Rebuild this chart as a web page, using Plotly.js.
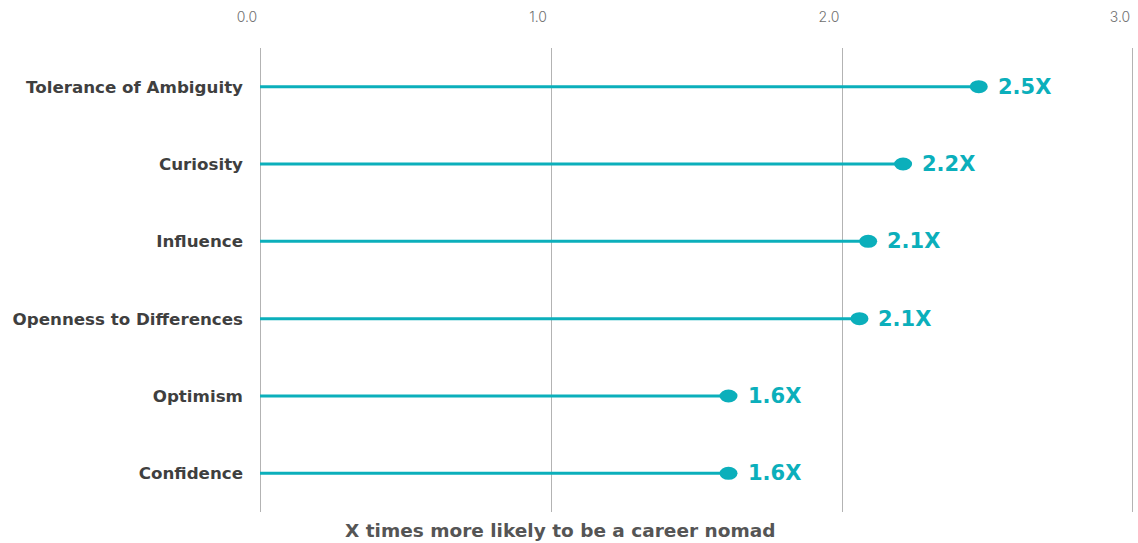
<!DOCTYPE html>
<html>
<head>
<meta charset="utf-8">
<script src="https://cdn.plot.ly/plotly-3.0.1.min.js"></script>
<style>
  html, body { margin: 0; padding: 0; background: #fff; }
  #chart { width: 1138px; height: 543px; }
</style>
</head>
<body>
<div id="chart"></div>
<script>
// Traits and how many times more likely each makes someone a career nomad
const traits = [
  "Tolerance of Ambiguity",
  "Curiosity",
  "Influence",
  "Openness to Differences",
  "Optimism",
  "Confidence"
];
const likelihood = [2.47, 2.21, 2.09, 2.06, 1.61, 1.61];
const tickValues = [0, 1, 2, 3];
const tickLabels = ["0.0", "1.0", "2.0", "3.0"];

const teal = "#0bafbb";
const boldFont = "'DejaVu Sans', Verdana, sans-serif";

// Stems: one segment per trait from zero to its value, separated by gaps
const stemX = [], stemY = [];
traits.forEach((t, i) => {
  stemX.push(0, likelihood[i], null);
  stemY.push(t, t, null);
});

const stems = {
  type: "scatter",
  mode: "lines",
  x: stemX,
  y: stemY,
  line: { color: teal, width: 3 },
  hoverinfo: "skip",
  showlegend: false
};

// Vertical grid at every tick, including both ends of the range.
// Each 1px line is nudged half a pixel (inwards at the right edge) so it stays crisp.
const lastTick = tickValues[tickValues.length - 1];
const gridLines = tickValues.map(v => {
  const nudge = v === lastTick ? -0.5 : 0.5;
  return {
    type: "line",
    xref: "x", yref: "paper",
    xsizemode: "pixel", xanchor: v,
    x0: nudge, x1: nudge, y0: 0, y1: 1,
    line: { color: "#b3b3b3", width: 1 },
    layer: "below"
  };
});

// Oval heads, anchored at each value and sized in pixels
const heads = likelihood.map((v, i) => ({
  type: "circle",
  xref: "x", yref: "y",
  xsizemode: "pixel", ysizemode: "pixel",
  xanchor: v, yanchor: i,
  x0: -9, x1: 9, y0: -6.5, y1: 6.5,
  fillcolor: teal,
  line: { width: 0 },
  layer: "above"
}));

// Value labels just right of each head
const valueLabels = likelihood.map((v, i) => ({
  x: v,
  y: traits[i],
  xref: "x", yref: "y",
  text: v.toFixed(1) + "X",
  showarrow: false,
  xanchor: "left",
  yanchor: "middle",
  xshift: 17,
  font: { family: boldFont, size: 21, weight: 700, color: teal }
}));

const axisTitle = {
  text: "X times more likely to be a career nomad",
  xref: "paper",
  yref: "paper",
  x: 0.344,
  y: 0,
  yshift: -18,
  xanchor: "center",
  yanchor: "middle",
  showarrow: false,
  font: { family: boldFont, size: 18.5, weight: 700, color: "#555555" }
};

const layout = {
  width: 1138,
  height: 543,
  margin: { l: 260, r: 5, t: 48, b: 31 },
  paper_bgcolor: "#ffffff",
  plot_bgcolor: "#ffffff",
  showlegend: false,
  xaxis: {
    side: "top",
    range: [0, 3],
    tickvals: tickValues,
    ticktext: tickLabels,
    showgrid: false,
    zeroline: false,
    showline: false,
    ticks: "",
    ticklabelstandoff: 22,
    ticklabelshift: -13,
    tickfont: { family: "Inter, 'Open Sans', sans-serif", size: 14, weight: 300, color: "#707070" },
    fixedrange: true
  },
  yaxis: {
    type: "category",
    categoryorder: "array",
    categoryarray: traits,
    range: [5.5, -0.5],
    showgrid: false,
    zeroline: false,
    showline: false,
    ticks: "",
    ticklabelstandoff: 16,
    tickfont: { family: boldFont, size: 16.7, weight: 700, color: "#3f3f3f" },
    fixedrange: true
  },
  shapes: gridLines.concat(heads),
  annotations: valueLabels.concat([axisTitle])
};

Plotly.newPlot("chart", [stems], layout, { displayModeBar: false, staticPlot: true });
</script>
</body>
</html>
